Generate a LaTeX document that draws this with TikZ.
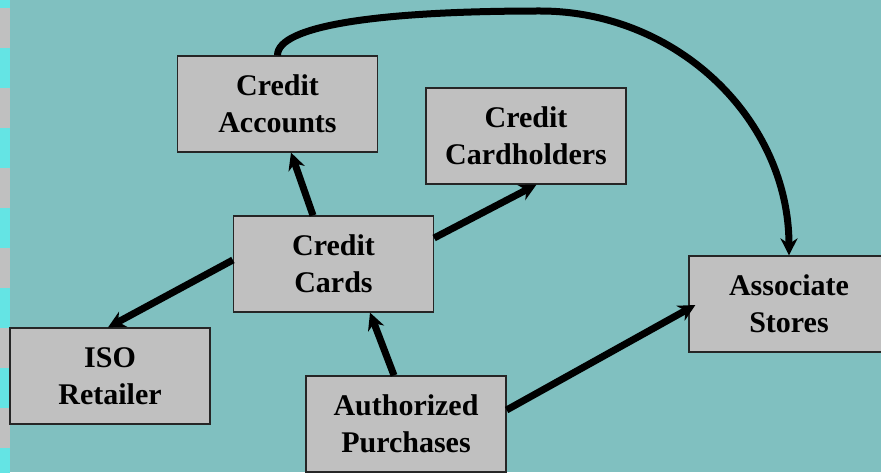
\documentclass[tikz,border=0pt]{standalone}
\usepackage{fontspec}
\setmainfont{Liberation Serif}
\usetikzlibrary{arrows.meta,positioning}
\definecolor{slideteal}{RGB}{128,192,192}
\definecolor{boxgray}{RGB}{192,192,192}
\definecolor{stripecyan}{RGB}{100,228,228}

\begin{document}
\begin{tikzpicture}[x=1pt, y=1pt,
    entity/.style={draw=black!85, line width=1.2pt, fill=boxgray,
        minimum width=200pt, minimum height=96pt, align=center,
        font=\fontsize{30}{37}\selectfont\bfseries},
    link/.style={line width=7pt, -{Stealth[length=17pt,width=17pt]}}]

% Background and left stripe
\fill[slideteal] (0,0) rectangle (881,472);
\useasboundingbox (0,0) rectangle (881,472);
\fill[boxgray] (0,0) rectangle (10,472);
\foreach \y in {-16,64,144,224,304,384,464} {
    \fill[stripecyan] (0,\y) rectangle (10,\y+40);
}

% Boxes
\node[entity] (acc)     at (277.5,368) {Credit\\Accounts};
\node[entity] (holders) at (526,336)   {Credit\\Cardholders};
\node[entity] (cards)   at (333.5,208) {Credit\\Cards};
\node[entity] (iso)     at (110,96)    {ISO\\Retailer};
\node[entity] (auth)    at (406,48)    {Authorized\\Purchases};
\node[entity] (stores)  at (789,168)   {Associate\\Stores};

% Top point of the long curve
\coordinate (top) at (540,461);

% Arrows
\draw[link] ([xshift=-20.5pt]cards.north) -- ([xshift=13.5pt]acc.south);
\draw[link] ([yshift=26pt]cards.east) -- ([xshift=10.5pt]holders.south);
\draw[link] ([yshift=4pt]cards.west) -- ([xshift=-2pt]iso.north);
\draw[link] ([xshift=-12pt]auth.north) -- ([xshift=36.5pt]cards.south);
\draw[link] ([yshift=14pt]auth.east) -- ([xshift=7pt,yshift=-1pt]stores.west);
\draw[link] (acc.north) .. controls +(0,30) and +(-160,0) .. (top)
    .. controls +(138,0) and +(0,135) .. (stores.north);

\end{tikzpicture}
\end{document}
